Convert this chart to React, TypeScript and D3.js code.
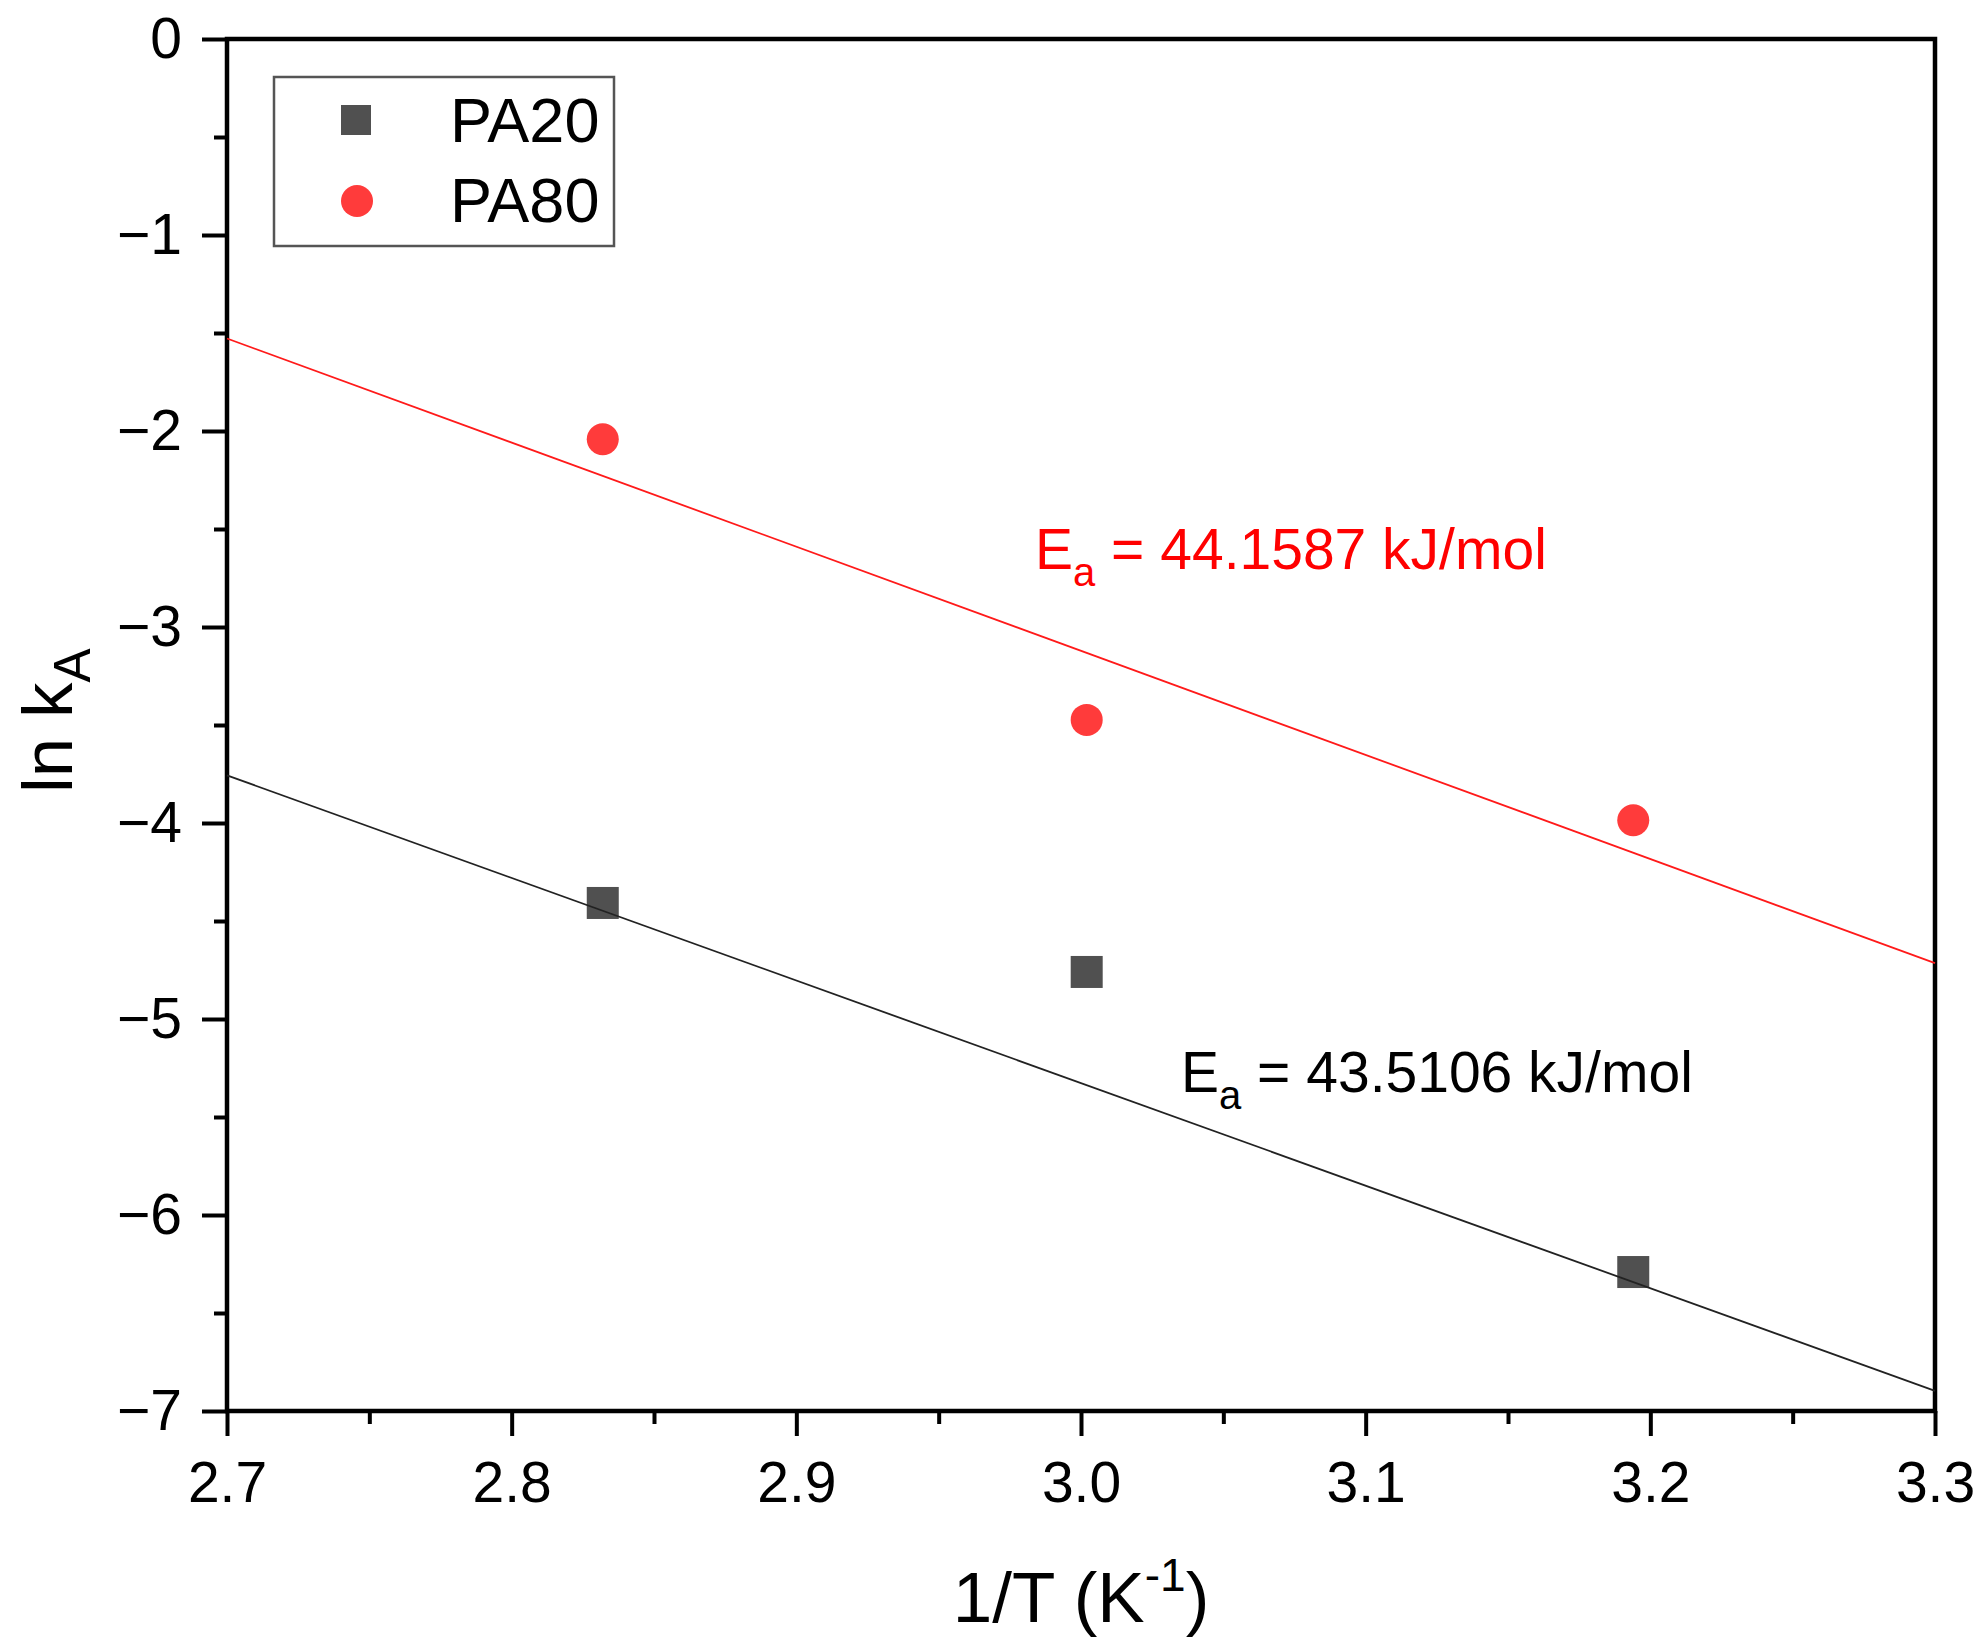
import React, { useEffect, useRef } from 'react';
import * as d3 from 'd3';

// 1/T (10^-3 K^-1) of the three temperatures
const invT = [2.832, 3.002, 3.194];
const pa20 = [-4.408, -4.76, -6.291];
const pa80 = [-2.042, -3.474, -3.986];

// fitted Arrhenius lines, read at the ends of the x range
const fit20: [number, number][] = [[2.7, -3.757], [3.3, -6.897]];
const fit80: [number, number][] = [[2.7, -1.528], [3.3, -4.715]];

const xTicks = [2.7, 2.8, 2.9, 3.0, 3.1, 3.2, 3.3];
const xMinor = [2.75, 2.85, 2.95, 3.05, 3.15, 3.25];
const yTicks = [0, -1, -2, -3, -4, -5, -6, -7];
const yMinor = [-0.5, -1.5, -2.5, -3.5, -4.5, -5.5, -6.5];

const legendNames = ['PA20', 'PA80'];
const eaLabels = ['43.5106', '44.1587'];

const FONT = "'Liberation Sans', Arial, sans-serif";

const App = () => {
  const svgRef: any = useRef();

  useEffect(() => {
    const width = 1980;
    const height = 1651;
    const left = 227, right = 1935, top = 39, bottom = 1411;

    const svg = d3.select(svgRef.current)
      .attr('width', width)
      .attr('height', height);
    svg.selectAll('*').remove();

    const x = d3.scaleLinear().domain([2.7, 3.3]).range([left, right]);
    const y = d3.scaleLinear().domain([-7, 0]).range([bottom, top]);

    // minor ticks first, no labels
    const xMinorAxis = d3.axisBottom(x).tickValues(xMinor).tickSize(13).tickFormat(() => '');
    const yMinorAxis = d3.axisLeft(y).tickValues(yMinor).tickSize(13).tickFormat(() => '');

    const xAxis = d3.axisBottom(x).tickValues(xTicks).tickSize(25).tickPadding(26)
      .tickFormat(d3.format('.1f') as any);
    const yAxis = d3.axisLeft(y).tickValues(yTicks).tickSize(25).tickPadding(20)
      .tickFormat(d3.format('d') as any);

    const styleAxis = (g: any) => {
      g.select('.domain').remove();
      g.selectAll('line').attr('stroke', '#000').attr('stroke-width', 4);
      g.selectAll('text').attr('font-family', FONT).attr('font-size', 57).attr('fill', '#000');
    };

    svg.append('g').attr('transform', `translate(0,${bottom})`).call(xMinorAxis).call(styleAxis);
    svg.append('g').attr('transform', `translate(${left},0)`).call(yMinorAxis).call(styleAxis);
    svg.append('g').attr('transform', `translate(0,${bottom})`).call(xAxis).call(styleAxis);
    svg.append('g').attr('transform', `translate(${left},0)`).call(yAxis).call(styleAxis);

    // frame
    svg.append('rect')
      .attr('x', left).attr('y', top)
      .attr('width', right - left).attr('height', bottom - top)
      .attr('fill', 'none')
      .attr('stroke', '#000')
      .attr('stroke-width', 4.5);

    // data markers
    svg.append('g').selectAll('rect')
      .data(invT.map((v, i) => [v, pa20[i]]))
      .join('rect')
      .attr('x', d => x(d[0]) - 16)
      .attr('y', d => y(d[1]) - 16)
      .attr('width', 32).attr('height', 32)
      .attr('fill', '#505050');

    svg.append('g').selectAll('circle')
      .data(invT.map((v, i) => [v, pa80[i]]))
      .join('circle')
      .attr('cx', d => x(d[0]))
      .attr('cy', d => y(d[1]))
      .attr('r', 16)
      .attr('fill', '#ff3b3b');

    // fit lines
    const line = d3.line<[number, number]>().x(d => x(d[0])).y(d => y(d[1]));
    svg.append('path').attr('d', line(fit80)).attr('fill', 'none')
      .attr('stroke', '#ff1a1a').attr('stroke-width', 1.8);
    svg.append('path').attr('d', line(fit20)).attr('fill', 'none')
      .attr('stroke', '#222').attr('stroke-width', 1.8);

    // activation energy labels
    const ea = (px: number, py: number, val: string, color: string) => {
      const t = svg.append('text')
        .attr('x', px).attr('y', py)
        .attr('font-family', FONT).attr('font-size', 57).attr('fill', color);
      t.append('tspan').text('E');
      t.append('tspan').attr('font-size', 40).attr('dy', 17).text('a');
      t.append('tspan').attr('dy', -17).text(` = ${val} kJ/mol`);
    };
    ea(1181, 1092, eaLabels[0], '#000');
    ea(1035, 569, eaLabels[1], '#ff0000');

    // legend
    svg.append('rect')
      .attr('x', 274).attr('y', 77).attr('width', 340).attr('height', 169)
      .attr('fill', '#fff').attr('stroke', '#555').attr('stroke-width', 2.5);
    svg.append('rect').attr('x', 341).attr('y', 105).attr('width', 30).attr('height', 30)
      .attr('fill', '#505050');
    svg.append('circle').attr('cx', 357).attr('cy', 201).attr('r', 16).attr('fill', '#ff3b3b');
    legendNames.forEach((n, i) => {
      svg.append('text')
        .attr('x', 450).attr('y', 142 + i * 80)
        .attr('font-family', FONT).attr('font-size', 63).attr('fill', '#000')
        .text(n);
    });

    // axis titles
    const xt = svg.append('text')
      .attr('x', (left + right) / 2).attr('y', 1622)
      .attr('text-anchor', 'middle')
      .attr('font-family', FONT).attr('font-size', 71).attr('fill', '#000');
    xt.append('tspan').text('1/T (K');
    xt.append('tspan').attr('font-size', 46).attr('dy', -31).text('-1');
    xt.append('tspan').attr('dy', 31).text(')');

    const yt = svg.append('text')
      .attr('transform', 'translate(72,793) rotate(-90)')
      .attr('font-family', FONT).attr('font-size', 71).attr('fill', '#000');
    yt.append('tspan').text('ln k');
    yt.append('tspan').attr('font-size', 51).attr('dy', 18).text('A');
  }, []);

  return (
    <div style={{ position: 'absolute', left: 0, top: 0, background: '#fff' }}>
      <svg ref={svgRef} style={{ display: 'block' }}></svg>
    </div>
  );
};

export default App;
